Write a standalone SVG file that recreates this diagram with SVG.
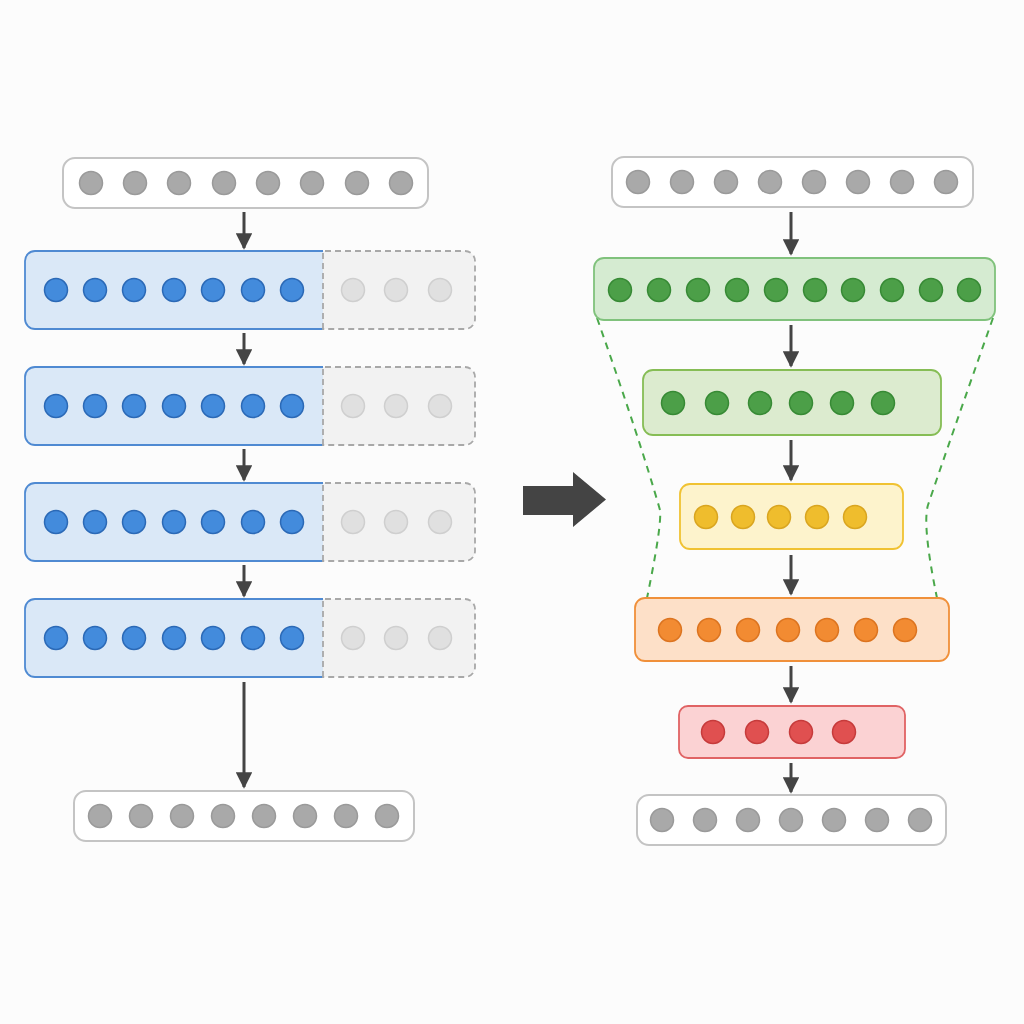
<svg xmlns="http://www.w3.org/2000/svg" width="1024" height="1024" viewBox="0 0 1024 1024">
<defs>
<style>
.io{fill:#ffffff;stroke:#c4c4c4;stroke-width:2}
.gc{fill:#a9a9a9;stroke:#9a9a9a;stroke-width:1.5}
.bfill{fill:#dae8f7;stroke:none}
.bline{fill:none;stroke:#4f8ad2;stroke-width:1.8}
.bc{fill:#438bdc;stroke:#2b69b6;stroke-width:1.5}
.pad{fill:#f2f2f2;stroke:#a8a8a8;stroke-width:1.8;stroke-dasharray:6 4}
.lc{fill:#e0e0e0;stroke:#cfcfcf;stroke-width:1.5}
.g1{fill:#d5ebd1;stroke:#80c27c;stroke-width:1.8}
.g2{fill:#dcebcf;stroke:#86bd55;stroke-width:1.8}
.gcir{fill:#4c9f48;stroke:#378a35;stroke-width:1.5}
.y{fill:#fdf3cc;stroke:#f0c232;stroke-width:1.8}
.ycir{fill:#efbd2d;stroke:#d9a520;stroke-width:1.5}
.o{fill:#fde0c8;stroke:#f0903a;stroke-width:1.8}
.ocir{fill:#f28b32;stroke:#dc7420;stroke-width:1.5}
.r{fill:#fbd2d3;stroke:#e06364;stroke-width:1.8}
.rcir{fill:#e05050;stroke:#c63b3b;stroke-width:1.5}
.conn{stroke:#444;stroke-width:3;fill:none;marker-end:url(#ah)}
.guide{stroke:#4aa84a;stroke-width:2;fill:none;stroke-dasharray:7 6}
</style>
<marker id="ah" viewBox="0 0 10 10" refX="9" refY="5" markerWidth="5.5" markerHeight="5.5" orient="auto" markerUnits="strokeWidth">
<path d="M0,0 L10,5 L0,10 z" fill="#444"/>
</marker>
</defs>
<rect width="1024" height="1024" fill="#fcfcfc"/>

<!-- Left side -->
<g id="left-input">
<rect class="io" x="63" y="158" width="365" height="50" rx="12"/>
<circle class="gc" cx="91" cy="183" r="11.5"/><circle class="gc" cx="135" cy="183" r="11.5"/><circle class="gc" cx="179" cy="183" r="11.5"/><circle class="gc" cx="224" cy="183" r="11.5"/><circle class="gc" cx="268" cy="183" r="11.5"/><circle class="gc" cx="312" cy="183" r="11.5"/><circle class="gc" cx="357" cy="183" r="11.5"/><circle class="gc" cx="401" cy="183" r="11.5"/>
</g>

<g id="left-layer1">
<path class="bfill" d="M323,251 H35 A10,10 0 0 0 25,261 V319 A10,10 0 0 0 35,329 H323 Z"/>
<path class="bline" d="M323,251 H35 A10,10 0 0 0 25,261 V319 A10,10 0 0 0 35,329 H323"/>
<path class="pad" d="M323,329 V251 H465 A10,10 0 0 1 475,261 V319 A10,10 0 0 1 465,329 Z"/>
<circle class="bc" cx="56" cy="290" r="11.5"/><circle class="bc" cx="95" cy="290" r="11.5"/><circle class="bc" cx="134" cy="290" r="11.5"/><circle class="bc" cx="174" cy="290" r="11.5"/><circle class="bc" cx="213" cy="290" r="11.5"/><circle class="bc" cx="253" cy="290" r="11.5"/><circle class="bc" cx="292" cy="290" r="11.5"/>
<circle class="lc" cx="353" cy="290" r="11.5"/><circle class="lc" cx="396" cy="290" r="11.5"/><circle class="lc" cx="440" cy="290" r="11.5"/>
</g>
<g id="left-layer2">
<path class="bfill" d="M323,367 H35 A10,10 0 0 0 25,377 V435 A10,10 0 0 0 35,445 H323 Z"/>
<path class="bline" d="M323,367 H35 A10,10 0 0 0 25,377 V435 A10,10 0 0 0 35,445 H323"/>
<path class="pad" d="M323,445 V367 H465 A10,10 0 0 1 475,377 V435 A10,10 0 0 1 465,445 Z"/>
<circle class="bc" cx="56" cy="406" r="11.5"/><circle class="bc" cx="95" cy="406" r="11.5"/><circle class="bc" cx="134" cy="406" r="11.5"/><circle class="bc" cx="174" cy="406" r="11.5"/><circle class="bc" cx="213" cy="406" r="11.5"/><circle class="bc" cx="253" cy="406" r="11.5"/><circle class="bc" cx="292" cy="406" r="11.5"/>
<circle class="lc" cx="353" cy="406" r="11.5"/><circle class="lc" cx="396" cy="406" r="11.5"/><circle class="lc" cx="440" cy="406" r="11.5"/>
</g>
<g id="left-layer3">
<path class="bfill" d="M323,483 H35 A10,10 0 0 0 25,493 V551 A10,10 0 0 0 35,561 H323 Z"/>
<path class="bline" d="M323,483 H35 A10,10 0 0 0 25,493 V551 A10,10 0 0 0 35,561 H323"/>
<path class="pad" d="M323,561 V483 H465 A10,10 0 0 1 475,493 V551 A10,10 0 0 1 465,561 Z"/>
<circle class="bc" cx="56" cy="522" r="11.5"/><circle class="bc" cx="95" cy="522" r="11.5"/><circle class="bc" cx="134" cy="522" r="11.5"/><circle class="bc" cx="174" cy="522" r="11.5"/><circle class="bc" cx="213" cy="522" r="11.5"/><circle class="bc" cx="253" cy="522" r="11.5"/><circle class="bc" cx="292" cy="522" r="11.5"/>
<circle class="lc" cx="353" cy="522" r="11.5"/><circle class="lc" cx="396" cy="522" r="11.5"/><circle class="lc" cx="440" cy="522" r="11.5"/>
</g>
<g id="left-layer4">
<path class="bfill" d="M323,599 H35 A10,10 0 0 0 25,609 V667 A10,10 0 0 0 35,677 H323 Z"/>
<path class="bline" d="M323,599 H35 A10,10 0 0 0 25,609 V667 A10,10 0 0 0 35,677 H323"/>
<path class="pad" d="M323,677 V599 H465 A10,10 0 0 1 475,609 V667 A10,10 0 0 1 465,677 Z"/>
<circle class="bc" cx="56" cy="638" r="11.5"/><circle class="bc" cx="95" cy="638" r="11.5"/><circle class="bc" cx="134" cy="638" r="11.5"/><circle class="bc" cx="174" cy="638" r="11.5"/><circle class="bc" cx="213" cy="638" r="11.5"/><circle class="bc" cx="253" cy="638" r="11.5"/><circle class="bc" cx="292" cy="638" r="11.5"/>
<circle class="lc" cx="353" cy="638" r="11.5"/><circle class="lc" cx="396" cy="638" r="11.5"/><circle class="lc" cx="440" cy="638" r="11.5"/>
</g>

<g id="left-output">
<rect class="io" x="74" y="791" width="340" height="50" rx="12"/>
<circle class="gc" cx="100" cy="816" r="11.5"/><circle class="gc" cx="141" cy="816" r="11.5"/><circle class="gc" cx="182" cy="816" r="11.5"/><circle class="gc" cx="223" cy="816" r="11.5"/><circle class="gc" cx="264" cy="816" r="11.5"/><circle class="gc" cx="305" cy="816" r="11.5"/><circle class="gc" cx="346" cy="816" r="11.5"/><circle class="gc" cx="387" cy="816" r="11.5"/>
</g>

<!-- Big arrow -->
<g id="transform-arrow">
<polygon points="523,486 573,486 573,472 606,499.5 573,527 573,515 523,515" fill="#444"/>
</g>

<!-- Right side -->
<g id="right-input">
<rect class="io" x="612" y="157" width="361" height="50" rx="12"/>
<circle class="gc" cx="638" cy="182" r="11.5"/><circle class="gc" cx="682" cy="182" r="11.5"/><circle class="gc" cx="726" cy="182" r="11.5"/><circle class="gc" cx="770" cy="182" r="11.5"/><circle class="gc" cx="814" cy="182" r="11.5"/><circle class="gc" cx="858" cy="182" r="11.5"/><circle class="gc" cx="902" cy="182" r="11.5"/><circle class="gc" cx="946" cy="182" r="11.5"/>
</g>

<g id="guides">
<path class="guide" d="M597,318 Q640,440 660,510 Q662,525 647,598"/>
<path class="guide" d="M993,318 Q950,440 928,505 Q922,525 937,598"/>
</g>

<g id="right-layer1">
<rect class="g1" x="594" y="258" width="401" height="62" rx="10"/>
<circle class="gcir" cx="620" cy="290" r="11.5"/><circle class="gcir" cx="659" cy="290" r="11.5"/><circle class="gcir" cx="698" cy="290" r="11.5"/><circle class="gcir" cx="737" cy="290" r="11.5"/><circle class="gcir" cx="776" cy="290" r="11.5"/><circle class="gcir" cx="815" cy="290" r="11.5"/><circle class="gcir" cx="853" cy="290" r="11.5"/><circle class="gcir" cx="892" cy="290" r="11.5"/><circle class="gcir" cx="931" cy="290" r="11.5"/><circle class="gcir" cx="969" cy="290" r="11.5"/>
</g>
<g id="right-layer2">
<rect class="g2" x="643" y="370" width="298" height="65" rx="10"/>
<circle class="gcir" cx="673" cy="403" r="11.5"/><circle class="gcir" cx="717" cy="403" r="11.5"/><circle class="gcir" cx="760" cy="403" r="11.5"/><circle class="gcir" cx="801" cy="403" r="11.5"/><circle class="gcir" cx="842" cy="403" r="11.5"/><circle class="gcir" cx="883" cy="403" r="11.5"/>
</g>
<g id="right-layer3">
<rect class="y" x="680" y="484" width="223" height="65" rx="10"/>
<circle class="ycir" cx="706" cy="517" r="11.5"/><circle class="ycir" cx="743" cy="517" r="11.5"/><circle class="ycir" cx="779" cy="517" r="11.5"/><circle class="ycir" cx="817" cy="517" r="11.5"/><circle class="ycir" cx="855" cy="517" r="11.5"/>
</g>
<g id="right-layer4">
<rect class="o" x="635" y="598" width="314" height="63" rx="10"/>
<circle class="ocir" cx="670" cy="630" r="11.5"/><circle class="ocir" cx="709" cy="630" r="11.5"/><circle class="ocir" cx="748" cy="630" r="11.5"/><circle class="ocir" cx="788" cy="630" r="11.5"/><circle class="ocir" cx="827" cy="630" r="11.5"/><circle class="ocir" cx="866" cy="630" r="11.5"/><circle class="ocir" cx="905" cy="630" r="11.5"/>
</g>
<g id="right-layer5">
<rect class="r" x="679" y="706" width="226" height="52" rx="9"/>
<circle class="rcir" cx="713" cy="732" r="11.5"/><circle class="rcir" cx="757" cy="732" r="11.5"/><circle class="rcir" cx="801" cy="732" r="11.5"/><circle class="rcir" cx="844" cy="732" r="11.5"/>
</g>
<g id="right-output">
<rect class="io" x="637" y="795" width="309" height="50" rx="12"/>
<circle class="gc" cx="662" cy="820" r="11.5"/><circle class="gc" cx="705" cy="820" r="11.5"/><circle class="gc" cx="748" cy="820" r="11.5"/><circle class="gc" cx="791" cy="820" r="11.5"/><circle class="gc" cx="834" cy="820" r="11.5"/><circle class="gc" cx="877" cy="820" r="11.5"/><circle class="gc" cx="920" cy="820" r="11.5"/>
</g>

<g id="connectors">
<line class="conn" x1="244" y1="212" x2="244" y2="248"/>
<line class="conn" x1="244" y1="333" x2="244" y2="364"/>
<line class="conn" x1="244" y1="449" x2="244" y2="480"/>
<line class="conn" x1="244" y1="565" x2="244" y2="596"/>
<line class="conn" x1="244" y1="682" x2="244" y2="787"/>
<line class="conn" x1="791" y1="212" x2="791" y2="254"/>
<line class="conn" x1="791" y1="325" x2="791" y2="366"/>
<line class="conn" x1="791" y1="440" x2="791" y2="480"/>
<line class="conn" x1="791" y1="555" x2="791" y2="594"/>
<line class="conn" x1="791" y1="666" x2="791" y2="702"/>
<line class="conn" x1="791" y1="763" x2="791" y2="792"/>
</g>
</svg>
